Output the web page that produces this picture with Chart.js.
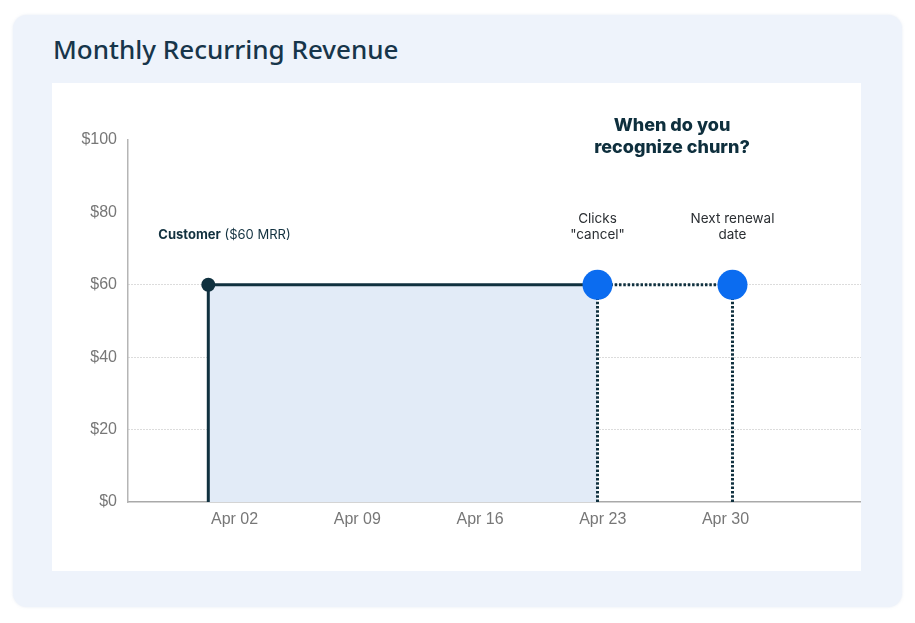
<!DOCTYPE html>
<html>
<head>
<meta charset="utf-8">
<script src="https://cdn.jsdelivr.net/npm/chart.js@4/dist/chart.umd.min.js"></script>
<style>
  html, body { margin: 0; padding: 0; background: #ffffff; }
  body { width: 915px; height: 623px; position: relative; overflow: hidden; }
  #card { position: absolute; left: 13px; top: 15px; width: 889px; height: 592px;
          background: #eef3fb; border-radius: 14px; box-shadow: 0 0 3px rgba(180,195,220,0.35); }
  #title { position: absolute; left: 53px; top: 33px; margin: 0;
           font-family: "Noto Sans", sans-serif; font-weight: 500; font-size: 26px;
           line-height: 32px; color: #17354a; }
  #panel { position: absolute; left: 52px; top: 83px; width: 809px; height: 488px; background: #ffffff; }
  #panel canvas { position: absolute; left: 0; top: 0; }
</style>
</head>
<body>
<div id="card"></div>
<h1 id="title">Monthly Recurring Revenue</h1>
<div id="panel"><canvas id="c" width="809" height="488"></canvas></div>
<script>
// ---- data ----
const xTickLabels = ['Apr 02', 'Apr 09', 'Apr 16', 'Apr 23', 'Apr 30'];
const xTickDays = [2, 9, 16, 23, 30];
const eventDays = [0.5, 22.7, 30.4];          // customer start, clicks cancel, next renewal
const eventNames = ['Customer', 'Clicks "cancel"', 'Next renewal date'];
const mrrValue = [60, 60, 60];               // MRR at each event ($)
const yTickValues = [0, 20, 40, 60, 80, 100];
const gridValues = [20, 40, 60];

const DARK = '#10313f';
const BLUE = '#0b6cf0';
const FILL = '#e2ebf7';

const [dStart, dCancel, dRenew] = eventDays;
const [vStart, vCancel, vRenew] = mrrValue;

const annotations = {
  id: 'annotations',
  afterDatasetsDraw(chart) {
    const { ctx, scales: { x, y } } = chart;
    ctx.save();
    // Customer label
    const sx = x.getPixelForValue(dStart), sy = y.getPixelForValue(vStart);
    ctx.textBaseline = 'middle';
    ctx.textAlign = 'left';
    ctx.fillStyle = '#12313f';
    ctx.font = '700 13px Inter, sans-serif';
    const bold = 'Customer';
    ctx.fillText(bold, sx - 50, sy - 50);
    const bw = ctx.measureText(bold).width;
    ctx.font = '400 13px Inter, sans-serif';
    ctx.fillText(' ($' + vStart + ' MRR)', sx - 50 + bw, sy - 50);

    // event labels
    ctx.textAlign = 'center';
    ctx.fillStyle = '#2b2f33';
    ctx.font = '400 13.5px Inter, sans-serif';
    const cx = x.getPixelForValue(dCancel), cy = y.getPixelForValue(vCancel);
    ctx.fillText('Clicks', cx, cy - 66);
    ctx.fillText('"cancel"', cx, cy - 50);
    const rx = x.getPixelForValue(dRenew), ry = y.getPixelForValue(vRenew);
    ctx.fillText('Next renewal', rx, ry - 66);
    ctx.fillText('date', rx, ry - 50);

    // question
    ctx.fillStyle = '#0e2f3d';
    ctx.font = '800 18px Inter, sans-serif';
    const qx = (cx + rx) / 2 + 7;
    const top = y.getPixelForValue(100);
    ctx.fillText('When do you', qx, top - 14);
    ctx.fillText('recognize churn?', qx, top + 8);
    ctx.restore();
  }
};

new Chart(document.getElementById('c'), {
  type: 'line',
  data: {
    datasets: [
      { // blue event markers
        data: [{ x: dCancel, y: vCancel }, { x: dRenew, y: vRenew }],
        showLine: false, pointRadius: 15, pointBackgroundColor: BLUE, pointBorderWidth: 0,
        order: 0
      },
      { // customer start marker
        data: [{ x: dStart, y: vStart }],
        showLine: false, pointRadius: 7, pointBackgroundColor: DARK, pointBorderWidth: 0,
        order: 1
      },
      { // solid MRR line
        data: [{ x: dStart, y: 0 }, { x: dStart, y: vStart }, { x: dCancel, y: vCancel }],
        borderColor: DARK, borderWidth: 3, pointRadius: 0, fill: false, tension: 0,
        order: 2
      },
      { // dotted continuation to renewal
        data: [{ x: dCancel, y: vCancel }, { x: dRenew, y: vRenew }],
        borderColor: DARK, borderWidth: 3, borderDash: [2.5, 1.8], pointRadius: 0, fill: false,
        order: 2
      },
      { // dotted drop at cancel
        data: [{ x: dCancel, y: 0 }, { x: dCancel, y: vCancel }],
        borderColor: DARK, borderWidth: 3, borderDash: [2.5, 1.8], pointRadius: 0, fill: false,
        order: 2
      },
      { // dotted drop at renewal
        data: [{ x: dRenew, y: 0 }, { x: dRenew, y: vRenew }],
        borderColor: DARK, borderWidth: 3, borderDash: [2.5, 1.8], pointRadius: 0, fill: false,
        order: 2
      },
      { // recognized revenue area
        data: [{ x: dStart, y: 0 }, { x: dStart, y: vStart }, { x: dCancel, y: vCancel }, { x: dCancel, y: 0 }],
        borderWidth: 0, pointRadius: 0, fill: 'origin', backgroundColor: FILL, tension: 0,
        order: 3
      }
    ]
  },
  options: {
    responsive: false,
    animation: false,
    events: [],
    layout: { autoPadding: false, padding: { top: 57, right: 0, bottom: 0, left: 0 } },
    plugins: { legend: { display: false }, tooltip: { enabled: false }, title: { display: false } },
    scales: {
      x: {
        type: 'linear',
        min: -4.08, max: 37.73,
        afterBuildTicks(s) { s.ticks = xTickDays.map(v => ({ value: v })); },
        afterFit(s) { s.height = 69; s.paddingLeft = 0; s.paddingRight = 0; },
        ticks: {
          callback: (v, i) => xTickLabels[i],
          color: '#777777', padding: 8,
          font: { family: '"Liberation Sans", Arial, sans-serif', size: 16 },
          maxRotation: 0, autoSkip: false
        },
        grid: { display: false, drawTicks: false },
        border: { display: true, color: '#a9a9a9', width: 1.5 }
      },
      y: {
        min: 0, max: 100,
        afterBuildTicks(s) { s.ticks = yTickValues.map(v => ({ value: v })); },
        afterFit(s) { s.width = 76; s.paddingTop = 0; s.paddingBottom = 0; },
        ticks: {
          callback: v => '$' + v,
          color: '#777777', padding: 11,
          font: { family: '"Liberation Sans", Arial, sans-serif', size: 16 }
        },
        grid: {
          drawTicks: false,
          lineWidth: 1,
          color: ctx => (ctx.tick && gridValues.includes(ctx.tick.value)) ? '#b8b8b8' : 'rgba(0,0,0,0)'
        },
        border: { display: true, color: '#b5b5b5', width: 1.5, dash: [1, 2] }
      }
    }
  },
  plugins: [annotations]
});
</script>
</body>
</html>
